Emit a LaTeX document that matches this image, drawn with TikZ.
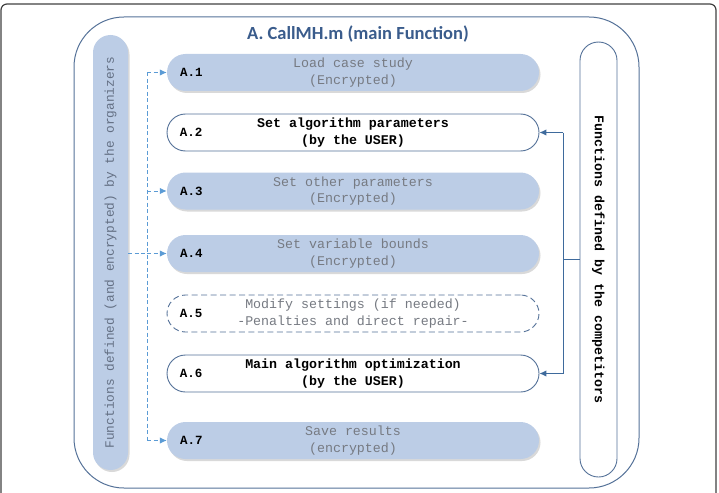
\documentclass[tikz,border=0pt]{standalone}
\usepackage{fontspec}
\setmonofont{Liberation Mono}
\newfontfamily\titlefont{Carlito}
\usetikzlibrary{shadows,arrows.meta}

\definecolor{framegray}{rgb}{0.25,0.25,0.25}
\definecolor{outerblue}{RGB}{84,113,152}
\definecolor{pillfill}{RGB}{188,205,230}
\definecolor{orgblue}{RGB}{91,155,213}
\definecolor{usrblue}{RGB}{62,106,156}
\definecolor{enctext}{RGB}{118,122,130}
\definecolor{orgtext}{RGB}{100,112,132}
\definecolor{titleblue}{RGB}{58,92,140}

\tikzset{
  softshadow/.style={drop shadow={shadow xshift=1.5pt,shadow yshift=-2pt,opacity=0.25,fill=black!60}},
  stepbase/.style={minimum width=372pt,minimum height=37pt,rounded corners=18.5pt,
    align=center,font=\fontsize{13.3}{16.5}\selectfont\ttfamily},
  encbox/.style={stepbase,fill=pillfill,text=enctext,softshadow},
  usrbox/.style={stepbase,draw=outerblue,line width=0.9pt,fill=white,text=black,
    font=\fontsize{13.3}{16.5}\selectfont\ttfamily\bfseries},
  optbox/.style={stepbase,draw=outerblue,line width=0.9pt,fill=white,text=enctext,
    dash pattern=on 6pt off 3.5pt},
  idlabel/.style={anchor=west,inner sep=0pt,font=\fontsize{12.5}{14}\selectfont\ttfamily\bfseries},
  orgline/.style={orgblue,line width=1pt,dash pattern=on 4pt off 2.5pt},
  orgarrow/.style={orgline,-{Latex[length=7pt,width=6.5pt]}},
  usrline/.style={usrblue,line width=1pt},
  usrarrow/.style={usrline,-{Latex[length=7pt,width=6.5pt]}}
}

\begin{document}
\begin{tikzpicture}[x=1pt,y=-1pt]
\useasboundingbox (0,0) rectangle (719,492);

\draw[framegray,line width=1.2pt,rounded corners=6pt] (1,4) rectangle (716,520);
\draw[outerblue,line width=1pt,rounded corners=50pt] (74,17) rectangle (639,488);

\node[text=titleblue,font=\fontsize{18.5}{20}\selectfont\titlefont\bfseries] (title) at (358,34) {A. CallMH.m (main Function)};

\node[fill=pillfill,softshadow,rotate=90,minimum width=435pt,minimum height=35pt,rounded corners=17.5pt,
  text=orgtext,font=\fontsize{12.8}{15}\selectfont\ttfamily] (orgpill) at (110.5,252.5)
  {Functions defined (and encrypted) by the organizers};
\node[draw=outerblue,line width=0.9pt,rotate=-90,minimum width=435pt,minimum height=37pt,rounded corners=18.5pt,
  font=\fontsize{13.3}{15}\selectfont\ttfamily\bfseries] (comppill) at (598.5,259.5)
  {Functions defined by the competitors};

\node[encbox] (b1) at (353,72.5) {Load case study\\(Encrypted)};
\node[usrbox] (b2) at (353,132.5) {Set algorithm parameters\\(by the USER)};
\node[encbox] (b3) at (353,191) {Set other parameters\\(Encrypted)};
\node[encbox] (b4) at (353,253.5) {Set variable bounds\\(Encrypted)};
\node[optbox] (b5) at (353,313.5) {Modify settings (if needed)\\-Penalties and direct repair-};
\node[usrbox] (b6) at (353,373.5) {Main algorithm optimization\\(by the USER)};
\node[encbox] (b7) at (353,440.5) {Save results\\(encrypted)};

\foreach \i in {1,...,7}
  \node[idlabel] (l\i) at ([xshift=13pt]b\i.west) {A.\i};

\coordinate (ob) at (147,0);
\coordinate (cb) at (563,0);

\draw[orgline] (ob |- b1.west) -- (ob |- b7.west);
\draw[orgline] (orgpill.south |- b4.west) -- (ob |- b4.west);
\draw[orgarrow] (ob |- b1.west) -- (b1.west);
\draw[orgarrow] (ob |- b3.west) -- (b3.west);
\draw[orgarrow] (ob |- b4.west) -- (b4.west);
\draw[orgarrow] (ob |- b7.west) -- (b7.west);

\draw[usrline] (comppill.south) -- (cb |- comppill.south);
\draw[usrline] (cb |- b2.east) -- (cb |- b6.east);
\draw[usrarrow] (cb |- b2.east) -- (b2.east);
\draw[usrarrow] (cb |- b6.east) -- (b6.east);
\end{tikzpicture}
\end{document}
